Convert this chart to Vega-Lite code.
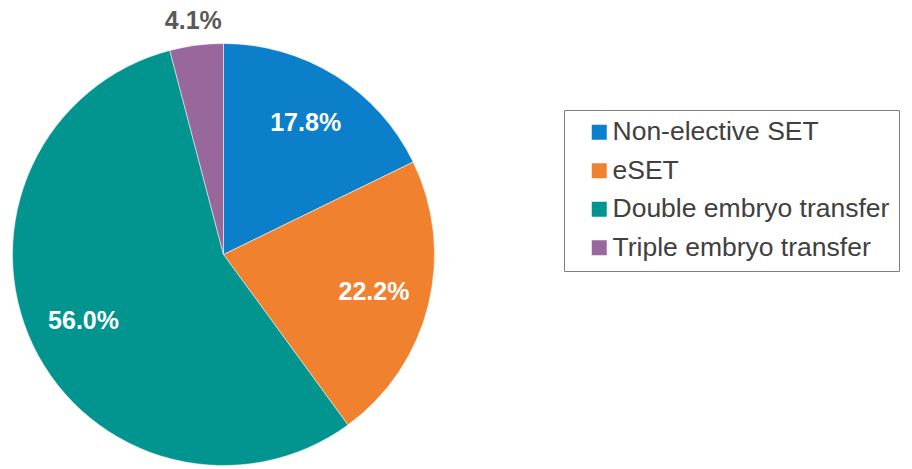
{
  "$schema": "https://vega.github.io/schema/vega-lite/v6.json",
  "width": 447,
  "height": 429,
  "padding": {"left": 0, "top": 40, "right": 465, "bottom": 0},
  "autosize": {"type": "none"},
  "background": "white",
  "config": {"view": {"stroke": null}, "font": "Liberation Sans"},
  "data": {
    "values": [
      {"cat": "Non-elective SET", "pct": 0.178, "ord": 1},
      {"cat": "eSET", "pct": 0.222, "ord": 2},
      {"cat": "Double embryo transfer", "pct": 0.560, "ord": 3},
      {"cat": "Triple embryo transfer", "pct": 0.041, "ord": 4}
    ]
  },
  "encoding": {
    "theta": {"field": "pct", "type": "quantitative", "stack": true},
    "order": {"field": "ord", "type": "quantitative"}
  },
  "layer": [
    {
      "mark": {"type": "arc", "outerRadius": 211, "stroke": "white", "strokeWidth": 0.5},
      "encoding": {
        "color": {
          "field": "cat",
          "type": "nominal",
          "sort": ["Non-elective SET", "eSET", "Double embryo transfer", "Triple embryo transfer"],
          "scale": {
            "domain": ["Non-elective SET", "eSET", "Double embryo transfer", "Triple embryo transfer"],
            "range": ["#0B7FCA", "#F0822F", "#02948F", "#98679C"]
          },
          "legend": {
            "title": null,
            "orient": "none",
            "legendX": 564,
            "legendY": 70,
            "strokeColor": "#7f7f7f",
            "fillColor": "white",
            "padding": 9,
            "symbolOffset": 13,
            "symbolType": "square",
            "symbolSize": 225,
            "symbolStrokeWidth": 0,
            "labelFontSize": 26.5,
            "labelFont": "Liberation Sans",
            "labelColor": "#404040",
            "labelOffset": 0,
            "labelLimit": 400,
            "rowPadding": 11.5
          }
        }
      }
    },
    {
      "mark": {"type": "text", "radius": 155, "fontSize": 25, "fontWeight": "bold", "font": "Liberation Sans", "fill": "white"},
      "encoding": {
        "text": {"field": "pct", "type": "quantitative", "format": ".1%"},
        "opacity": {"condition": {"test": "datum.cat !== 'Triple embryo transfer'", "value": 1}, "value": 0}
      }
    },
    {
      "mark": {"type": "text", "radius": 235, "fontSize": 25, "fontWeight": "bold", "font": "Liberation Sans", "fill": "#595959"},
      "encoding": {
        "text": {"field": "pct", "type": "quantitative", "format": ".1%"},
        "opacity": {"condition": {"test": "datum.cat === 'Triple embryo transfer'", "value": 1}, "value": 0}
      }
    }
  ]
}
